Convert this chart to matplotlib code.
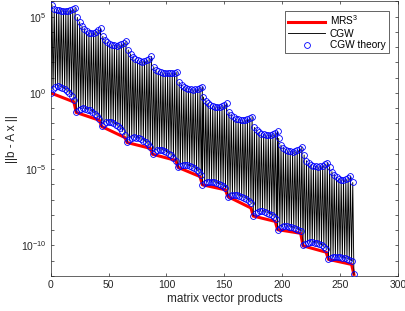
import numpy as np
import matplotlib
matplotlib.use('Agg')
import matplotlib.pyplot as plt
from matplotlib.ticker import FixedLocator, NullFormatter, LogFormatterMathtext

plt.rcParams['font.family'] = ['Liberation Sans', 'DejaVu Sans']
plt.rcParams['mathtext.fontset'] = 'custom'
plt.rcParams['mathtext.rm'] = 'Liberation Sans'
plt.rcParams['mathtext.it'] = 'Liberation Sans:italic'

# ---- data (log10 of residual norms) ----
cycle_start = [0, 22, 44, 66, 88, 110, 131, 153, 175, 196, 218, 240]

upper_log = [
    [5.78, 5.50, 5.45, 5.42, 5.40, 5.39, 5.38, 5.39, 5.43, 5.48, 5.56],
    [4.95, 4.66, 4.37, 4.16, 4.03, 3.96, 3.93, 3.96, 4.02, 4.12, 4.26],
    [3.71, 3.48, 3.33, 3.22, 3.15, 3.12, 3.10, 3.12, 3.18, 3.26, 3.38],
    [2.82, 2.56, 2.36, 2.22, 2.13, 2.08, 2.06, 2.09, 2.15, 2.25, 2.39],
    [1.72, 1.50, 1.42, 1.36, 1.33, 1.31, 1.30, 1.30, 1.32, 1.33, 1.36],
    [0.71, 0.50, 0.39, 0.31, 0.26, 0.23, 0.22, 0.23, 0.26, 0.31, 0.38],
    [-0.27, -0.50, -0.67, -0.79, -0.86, -0.90, -0.92, -0.90, -0.85, -0.77, -0.66],
    [-1.25, -1.45, -1.59, -1.68, -1.74, -1.78, -1.79, -1.77, -1.73, -1.66, -1.57],
    [-2.26, -2.45, -2.57, -2.66, -2.72, -2.75, -2.76, -2.74, -2.69, -2.61, -2.50],
    [-2.98, -3.42, -3.59, -3.71, -3.79, -3.83, -3.85, -3.82, -3.76, -3.66, -3.53],
    [-4.07, -4.44, -4.60, -4.71, -4.78, -4.81, -4.83, -4.81, -4.76, -4.68, -4.57],
    [-4.83, -5.16, -5.38, -5.53, -5.62, -5.68, -5.70, -5.66, -5.56, -5.44, -5.87],
]

lower_log = [
    [0.00, 0.24, 0.38, 0.43, 0.40, 0.34, 0.25, 0.13, -0.03, -0.23, -0.48],
    [-1.26, -1.13, -1.05, -1.02, -1.04, -1.09, -1.15, -1.24, -1.35, -1.50, -1.68],
    [-2.18, -2.03, -1.93, -1.90, -1.93, -1.99, -2.07, -2.18, -2.33, -2.52, -2.76],
    [-3.22, -3.06, -2.96, -2.92, -2.94, -2.98, -3.04, -3.12, -3.23, -3.36, -3.53],
    [-4.00, -3.86, -3.77, -3.74, -3.76, -3.81, -3.88, -3.97, -4.10, -4.25, -4.45],
    [-4.88, -4.79, -4.74, -4.72, -4.74, -4.79, -4.85, -4.93, -5.05, -5.19, -5.37],
    [-6.02, -5.90, -5.84, -5.81, -5.82, -5.85, -5.90, -5.95, -6.03, -6.12, -6.24],
    [-6.79, -6.73, -6.69, -6.68, -6.70, -6.73, -6.79, -6.86, -6.95, -7.07, -7.22],
    [-8.05, -7.89, -7.79, -7.76, -7.77, -7.81, -7.86, -7.92, -8.01, -8.11, -8.25],
    [-8.96, -8.84, -8.77, -8.74, -8.75, -8.77, -8.81, -8.85, -8.91, -8.98, -9.07],
    [-10.00, -9.88, -9.81, -9.78, -9.79, -9.82, -9.86, -9.92, -9.99, -10.08, -10.20],
    [-10.91, -10.82, -10.76, -10.74, -10.75, -10.77, -10.80, -10.83, -10.88, -10.94, -11.02],
]

final_x = 262
final_log = -11.9

red_x = [0, 20, 22, 42, 44, 64, 66, 86, 88, 108, 110, 129, 131, 151, 153, 173,
         175, 194, 196, 216, 218, 238, 240, 260, 262]
red_log = [0.00, -0.59, -1.28, -1.79, -2.20, -2.92, -3.25, -3.63, -4.02, -4.42,
           -4.88, -5.48, -6.02, -6.35, -6.79, -7.54, -8.07, -8.42, -8.96, -9.20,
           -10.02, -10.44, -10.91, -11.24, -11.90]

x_ticks = [0, 50, 100, 150, 200, 250, 300]
y_major = [1e-10, 1e-5, 1e0, 1e5]

# ---- build CGW series ----
cgw_x, cgw_y = [], []
for s, U, L in zip(cycle_start, upper_log, lower_log):
    for i in range(len(U)):
        cgw_x += [s + 2 * i, s + 2 * i + 1]
        cgw_y += [10.0 ** L[i], 10.0 ** U[i]]
cgw_x.append(final_x)
cgw_y.append(10.0 ** final_log)
red_y = [10.0 ** v for v in red_log]

fig = plt.figure(figsize=(4.06, 3.11), dpi=100)
ax = fig.add_axes([0.125, 0.1125, 0.855, 0.883])

axc = '#262626'
ax.plot(red_x, red_y, color='#ff0000', lw=2.2, label='MRS$^3$', zorder=2)
ax.plot(cgw_x, cgw_y, color='black', lw=0.65, label='CGW', zorder=3)
ax.plot(cgw_x, cgw_y, linestyle='none', marker='o', ms=4.2, mfc='none',
        mec='#0000ff', mew=0.6, label='CGW theory', zorder=4)

ax.set_yscale('log')
ax.set_xlim(0, 300)
ax.set_ylim(1e-12, 1e6)
ax.xaxis.set_major_locator(FixedLocator(x_ticks))
ax.yaxis.set_major_locator(FixedLocator(y_major))
ax.yaxis.set_major_formatter(LogFormatterMathtext())
ax.yaxis.set_minor_locator(FixedLocator([10.0 ** k for k in range(-12, 7)]))
ax.yaxis.set_minor_formatter(NullFormatter())
ax.tick_params(which='both', direction='in', top=True, right=True,
               length=2.5, width=0.5, colors=axc, labelsize=7.5, pad=3)
for sp in ax.spines.values():
    sp.set_color(axc)
    sp.set_linewidth(0.5)

ax.set_xlabel('matrix vector products', fontsize=8.5, color=axc, labelpad=2)
ax.set_ylabel('||b - A x ||', fontsize=8.5, color=axc, labelpad=2)

leg = ax.legend(loc='upper right', fontsize=7.3, frameon=True, fancybox=False,
                edgecolor=axc, framealpha=1, borderaxespad=0.9,
                handlelength=3.6, handletextpad=0.5, borderpad=0.3,
                labelspacing=0.15)
leg.get_frame().set_linewidth(0.5)

fig.savefig('out.png', dpi=100)
